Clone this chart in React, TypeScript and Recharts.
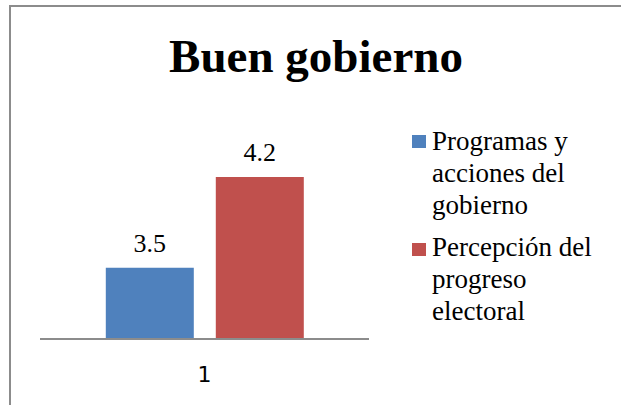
import React from "react";
import { BarChart, Bar, XAxis, YAxis, LabelList, Legend } from "recharts";

const categories = ["1"];
const programas = [3.5];
const percepcion = [4.2];

const seriesNames = ["Programas y acciones del gobierno", "Percepción del progreso electoral"];
const seriesColors = ["#4F81BD", "#C0504D"];

const data = categories.map((c, i) => ({
  name: c,
  programas: programas[i],
  percepcion: percepcion[i],
}));

const serif = "'Liberation Serif', 'Times New Roman', serif";

function LegendContent(props: any) {
  const items = [...(props.payload || [])].sort(
    (a: any, b: any) => seriesNames.indexOf(a.value) - seriesNames.indexOf(b.value)
  );
  return (
    <div style={{ fontFamily: serif, fontSize: 27, lineHeight: "32px", color: "#000", textAlign: "left" }}>
      {items.map((it: any, i: number) => (
        <div key={i} style={{ display: "flex", alignItems: "flex-start", marginBottom: 10 }}>
          <div
            style={{
              width: 14,
              height: 13,
              background: it.color,
              marginTop: i === 0 ? 10 : 12,
              marginRight: 6,
              flex: "none",
            }}
          />
          <div style={{ width: 180 }}>{it.value}</div>
        </div>
      ))}
    </div>
  );
}

export default function App() {
  return (
    <div style={{ position: "absolute", left: 0, top: 0, width: 621, height: 405, background: "#fff" }}>
      <div
        style={{
          position: "absolute",
          left: 9,
          top: 5,
          width: 612,
          height: 400,
          borderTop: "2px solid #8c8c8c",
          borderLeft: "2px solid #8c8c8c",
          boxSizing: "border-box",
        }}
      />
      <svg style={{ position: "absolute", left: 0, top: 0 }} width={621} height={100}>
        <text x={316} y={72} textAnchor="middle" fontFamily={serif} fontWeight="bold" fontSize={47} fill="#000">
          Buen gobierno
        </text>
      </svg>
      <div style={{ position: "absolute", left: 0, top: 0 }}>
        <BarChart
          width={621}
          height={405}
          data={data}
          margin={{ top: 151, right: 252, left: 40, bottom: 36 }}
          barCategoryGap="20%"
          barGap={22}
        >
          <XAxis
            dataKey="name"
            stroke="#8c8c8c"
            strokeWidth={2}
            tickLine={false}
            tickMargin={21}
            tick={{ fontFamily: "'DejaVu Sans', sans-serif", fontSize: 22, fill: "#000" }}
          />
          <YAxis hide domain={[2.95, 4.4]} allowDataOverflow />
          <Legend
            layout="horizontal"
            verticalAlign="middle"
            align="center"
            content={<LegendContent />}
            wrapperStyle={{ position: "absolute", left: 412, top: 125, width: 205 }}
          />
          <Bar dataKey="programas" name={seriesNames[0]} fill={seriesColors[0]} isAnimationActive={false}>
            <LabelList dataKey="programas" position="top" offset={16} fontFamily={serif} fontSize={26} fill="#000" />
          </Bar>
          <Bar dataKey="percepcion" name={seriesNames[1]} fill={seriesColors[1]} isAnimationActive={false}>
            <LabelList dataKey="percepcion" position="top" offset={16} fontFamily={serif} fontSize={26} fill="#000" />
          </Bar>
        </BarChart>
      </div>
    </div>
  );
}
